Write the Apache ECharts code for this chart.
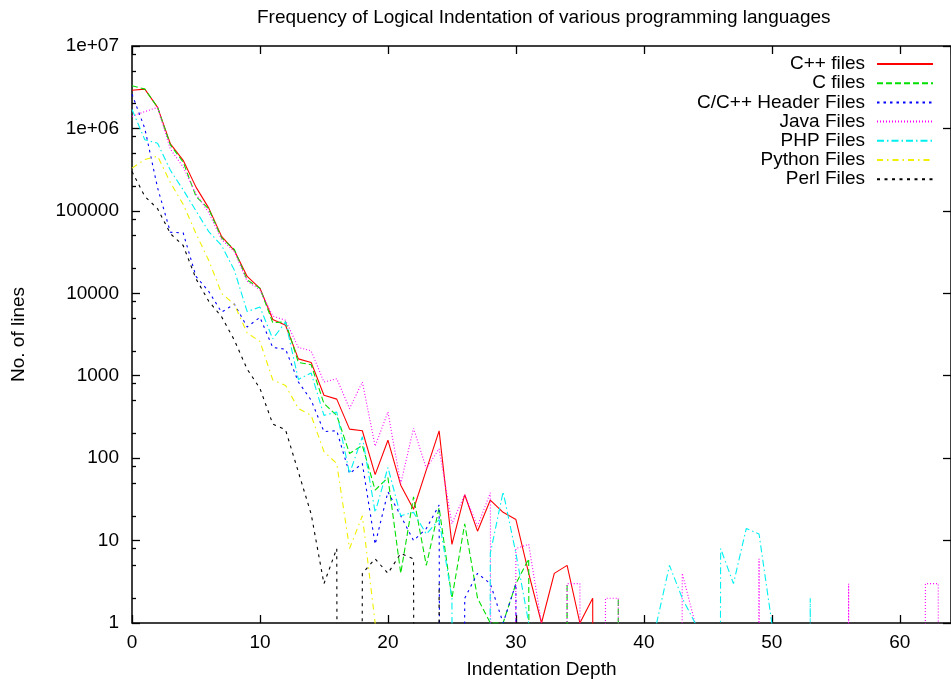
<!DOCTYPE html>
<html><head><meta charset="utf-8">
<script src="https://cdn.jsdelivr.net/npm/echarts@6/dist/echarts.min.js"></script>
<style>html,body{margin:0;padding:0;background:#fff}#chart{width:951px;height:684px}</style>
</head><body><div id="chart"></div>
<script>
// Indentation depth (x categories)
const depth = [0,1,2,3,4,5,6,7,8,9,10,11,12,13,14,15,16,17,18,19,20,21,22,23,24,25,26,27,28,29,30,31,32,33,34,35,36,37,38,39,40,41,42,43,44,45,46,47,48,49,50,51,52,53,54,55,56,57,58,59,60,61,62,63,64];

const cppFiles = [
 2.9e6, 3.0e6, 1.8e6, 6.5e5, 4.1e5, 1.94e5, 1.08e5, 4.9e4, 3.3e4, 1.6e4,
 1.15e4, 4800, 4100, 1600, 1450, 580, 520, 225, 215, 63,
 165, 47, 24, 72, 214, 9, 36, 13, 31, 22,
 18, 4, 1, 4, 5, 1, 2, 0, 0, 0,
 0, 0, 0, 0, 0, 0, 0, 0, 0, 0,
 0, 0, 0, 0, 0, 0, 0, 0, 0, 0,
 0, 0, 0, 0, 0];
const cFiles = [
 3.3e6, 3.0e6, 1.8e6, 6.3e5, 3.9e5, 1.5e5, 1.05e5, 4.7e4, 3.4e4, 1.45e4,
 1.15e4, 4400, 4500, 1450, 1360, 460, 330, 114, 143, 41,
 58, 4, 34, 5, 25, 2, 16, 2, 1, 1,
 3, 6, 0, 0, 3, 0, 0, 0, 2, 0,
 0, 0, 0, 0, 0, 0, 0, 0, 0, 0,
 0, 0, 0, 0, 0, 0, 0, 0, 0, 0,
 0, 0, 0, 0, 0];
const headerFiles = [
 2.6e6, 1.0e6, 1.9e5, 5.5e4, 5.4e4, 1.6e4, 1.05e4, 5900, 7400, 3900,
 5100, 2200, 2100, 840, 505, 210, 215, 65, 86, 9,
 39, 20, 10, 14, 27, 0, 2, 4, 3, 1,
 3, 0, 0, 0, 0, 0, 0, 0, 0, 0,
 0, 0, 0, 0, 0, 0, 0, 0, 0, 0,
 0, 0, 0, 0, 0, 0, 0, 0, 0, 0,
 0, 0, 0, 0, 0];
const javaFiles = [
 1.4e6, 1.6e6, 1.8e6, 5.6e5, 3.4e5, 1.6e5, 9.5e4, 4.5e4, 3.2e4, 1.4e4,
 1.1e4, 5300, 4700, 2200, 2000, 840, 920, 400, 840, 140,
 363, 49, 230, 75, 130, 16, 36, 15, 38, 0,
 8, 9, 1, 0, 3, 3, 0, 2, 2, 0,
 0, 0, 0, 4, 1, 0, 0, 0, 0, 6,
 0, 0, 0, 0, 0, 0, 3, 0, 0, 0,
 0, 0, 3, 3, 0];
const phpFiles = [
 1.7e6, 7.3e5, 6.6e5, 3.1e5, 1.8e5, 1.0e5, 5.6e4, 3.8e4, 1.9e4, 6000,
 6800, 2800, 4500, 900, 1080, 330, 363, 65, 182, 22,
 77, 20, 22, 12, 18, 2, 0, 0, 7, 39,
 7, 1, 0, 0, 0, 0, 0, 0, 0, 0,
 0, 1, 5, 2, 1, 0, 8, 3, 14, 12,
 1, 0, 0, 2, 0, 0, 0, 0, 0, 0,
 0, 0, 0, 0, 0];
const pythonFiles = [
 3.3e5, 4.2e5, 4.6e5, 2.2e5, 1.2e5, 5.3e4, 2.5e4, 1.0e4, 7300, 3300,
 2600, 890, 760, 400, 330, 120, 86, 8, 20, 1,
 0, 0, 0, 0, 0, 0, 0, 0, 0, 0,
 0, 0, 0, 0, 0, 0, 0, 0, 0, 0,
 0, 0, 0, 0, 0, 0, 0, 0, 0, 0,
 0, 0, 0, 0, 0, 0, 0, 0, 0, 0,
 0, 0, 0, 0, 0];
const perlFiles = [
 3.0e5, 1.5e5, 1.06e5, 5.3e4, 3.8e4, 1.5e4, 8000, 5200, 2700, 1200,
 700, 260, 220, 68, 21, 3, 8, 0, 4, 6,
 4, 7, 6, 0, 3, 0, 0, 0, 0, 0,
 0, 0, 0, 0, 0, 0, 0, 0, 0, 0,
 0, 0, 0, 0, 0, 0, 0, 0, 0, 0,
 0, 0, 0, 0, 0, 0, 0, 0, 0, 0,
 0, 0, 0, 0, 0];

const seriesNames = ['C++ files','C files','C/C++ Header Files','Java Files','PHP Files','Python Files','Perl Files'];
const yTickLabels = ['1','10','100','1000','10000','100000','1e+06','1e+07'];
const yMinorTicks = [2,5,8,20,50,80,200,500,800,2000,5000,8000,2e4,5e4,8e4,2e5,5e5,8e5,2e6,5e6,8e6];

const FONT = 'Liberation Sans';
const ZERO_FLOOR = 1e-60; // zero counts fall off the bottom of the log axis, as in gnuplot

const styles = [
  {color:'#ff0000', type:'solid'},
  {color:'#00e000', type:[6,3]},
  {color:'#0000ff', type:[2.5,4]},
  {color:'#ff00ff', type:[1,2]},
  {color:'#00f0f0', type:[7,3,1.5,3]},
  {color:'#f0f000', type:[6,4,1.5,4]},
  {color:'#000000', type:[3,4.5]}
];
const values = [cppFiles, cFiles, headerFiles, javaFiles, phpFiles, pythonFiles, perlFiles];

function pts(vals){ return depth.map((d,i)=>[d, vals[i] > 0 ? vals[i] : ZERO_FLOOR]); }

const chart = echarts.init(document.getElementById('chart'), null, {renderer:'canvas'});
const tickStyle = {color:'#000', width:1.3};
const legendRowTop = 54, legendRowStep = 19.2;

chart.setOption({
  animation:false,
  backgroundColor:'#ffffff',
  textStyle:{fontFamily:FONT},
  title:{
    text:'Frequency of Logical Indentation of various programming languages',
    left:257, top:8, padding:0,
    textStyle:{fontFamily:FONT, fontSize:19, fontWeight:'normal', color:'#000'}
  },
  grid:{left:132, right:-5, top:46, bottom:61, show:true, borderColor:'#000', borderWidth:1.5, backgroundColor:'rgba(0,0,0,0)'},
  legend: seriesNames.map((n,i)=>({
    data:[n], right:17, top: legendRowTop + i*legendRowStep, orient:'horizontal', align:'right',
    itemWidth:56, itemHeight:10, padding:0, selectedMode:false,
    itemStyle:{opacity:0},
    textStyle:{fontFamily:FONT, fontSize:19, color:'#000', lineHeight:20, padding:[0,7,0,0]}
  })),
  xAxis:[
    {type:'value', position:'bottom', min:0, max:64, interval:10,
     axisLine:{show:false}, axisTick:{inside:true, length:8, lineStyle:tickStyle},
     axisLabel:{color:'#000', fontSize:19, fontFamily:FONT, margin:10, showMaxLabel:false},
     splitLine:{show:false},
     name:'Indentation Depth', nameLocation:'middle', nameGap:37,
     nameTextStyle:{fontFamily:FONT, fontSize:19, color:'#000'}},
    {type:'value', position:'top', min:0, max:64, interval:10,
     axisLine:{show:false}, axisTick:{inside:true, length:8, lineStyle:tickStyle},
     axisLabel:{show:false}, splitLine:{show:false}}
  ],
  yAxis:[
    {type:'log', logBase:10, min:1, max:1e7, interval:1, position:'left',
     axisLine:{show:false}, axisTick:{inside:true, length:8, lineStyle:tickStyle},
     axisLabel:{color:'#000', fontSize:19, fontFamily:FONT, margin:13,
       formatter:(v)=>yTickLabels[Math.round(Math.log10(v))]},
     splitLine:{show:false},
     name:'No. of lines', nameLocation:'middle', nameGap:104,
     nameTextStyle:{fontFamily:FONT, fontSize:19, color:'#000'}},
    {type:'log', logBase:10, min:1, max:1e7, interval:1, position:'left',
     axisLine:{show:false}, axisTick:{inside:true, length:4, lineStyle:tickStyle, customValues:yMinorTicks},
     axisLabel:{show:false}, splitLine:{show:false}},
    {type:'log', logBase:10, min:1, max:1e7, interval:1, position:'right',
     axisLine:{show:false}, axisTick:{inside:true, length:8, lineStyle:tickStyle},
     axisLabel:{show:false}, splitLine:{show:false}}
  ],
  series: seriesNames.map((n,i)=>({
    name:n, type:'line', data:pts(values[i]), xAxisIndex:0, yAxisIndex:0,
    symbol:'none', showSymbol:false, clip:true, smooth:false,
    lineStyle:{color:styles[i].color, width:1.1, type:styles[i].type},
    itemStyle:{color:styles[i].color},
    emphasis:{disabled:true}
  }))
});
</script></body></html>
